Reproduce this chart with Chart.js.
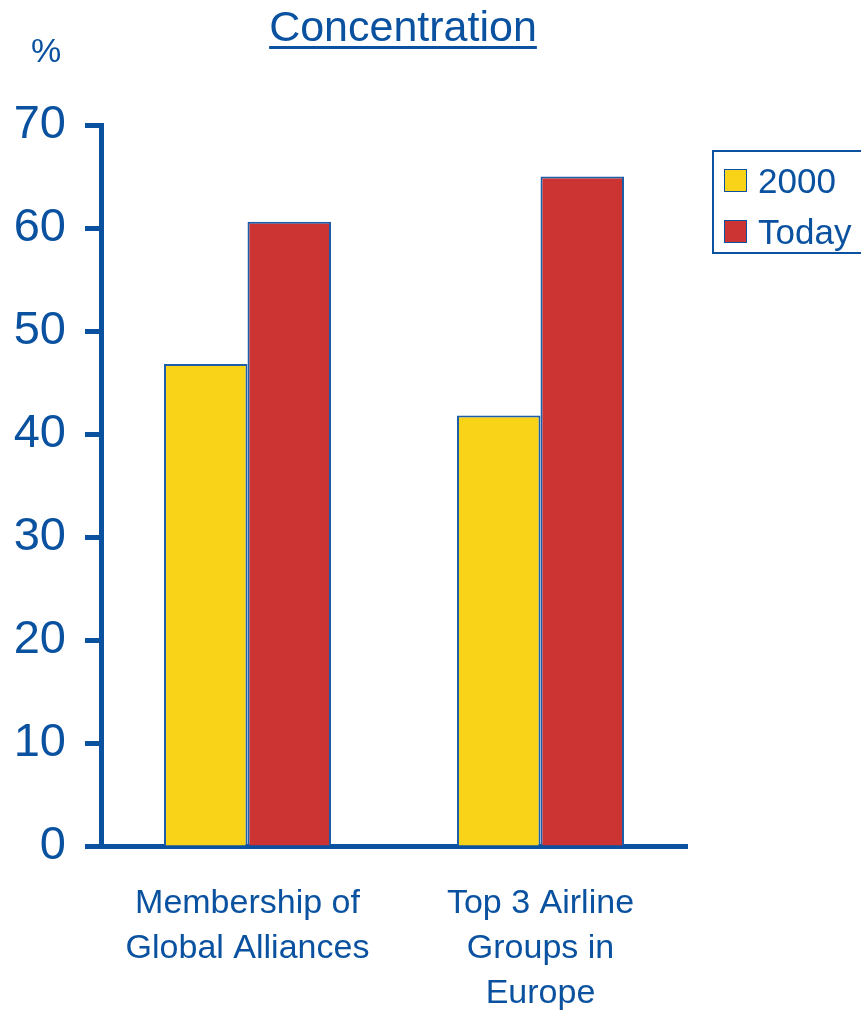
<!DOCTYPE html>
<html>
<head>
<meta charset="utf-8">
<script src="https://cdn.jsdelivr.net/npm/chart.js@4.4.0/dist/chart.umd.min.js"></script>
<style>
  html, body { margin:0; padding:0; background:#fff; }
  #wrap { position:relative; width:861px; height:1011px; overflow:hidden; font-family:"Liberation Sans", Arial, sans-serif; color:#0A52A0; }
  #c { position:absolute; left:0; top:0; }
  #title { position:absolute; left:0; width:806px; top:3px; text-align:center; font-size:43px; line-height:46px; text-decoration:underline; text-decoration-thickness:3px; text-underline-offset:5px; }
  #pct { position:absolute; left:31px; top:31px; font-size:34px; line-height:38px; }
  #legend { position:absolute; left:712px; top:150px; width:160px; height:104px; border:2px solid #0A52A0; box-sizing:border-box; }
  .li { position:absolute; left:10px; height:40px; font-size:35px; line-height:40px; white-space:nowrap; }
  .sw { display:inline-block; width:21px; height:21px; border:1.5px solid #0A52A0; vertical-align:middle; margin-right:11px; position:relative; top:-3px; }
</style>
</head>
<body>
<div id="wrap">
  <canvas id="c" width="861" height="1011"></canvas>
  <div id="title">Concentration</div>
  <div id="pct">%</div>
  <div id="legend"></div>
</div>
<script>
const categories = [["Membership of", "Global Alliances"], ["Top 3 Airline", "Groups in", "Europe"]];
const seriesNames = ["2000", "Today"];
const values2000 = [46.8, 41.8];
const valuesToday = [60.6, 65.0];
const yTicks = [0, 10, 20, 30, 40, 50, 60, 70];

const BLUE = "#0A52A0";
const YELLOW = "#F9D317";
const RED = "#CC3333";
const FONT = "'Liberation Sans', Arial, sans-serif";

const legend = document.getElementById('legend');
[[seriesNames[0], YELLOW], [seriesNames[1], RED]].forEach((s, i) => {
  const d = document.createElement('div');
  d.className = 'li';
  d.style.top = (9 + i * 51) + 'px';
  d.innerHTML = '<span class="sw" style="background:' + s[1] + '"></span>' + s[0];
  legend.appendChild(d);
});

new Chart(document.getElementById('c'), {
  type: 'bar',
  data: {
    labels: categories,
    datasets: [
      { label: seriesNames[0], data: values2000, backgroundColor: YELLOW, borderColor: "#1D5EA8", borderWidth: 2 },
      { label: seriesNames[1], data: valuesToday, backgroundColor: RED, borderColor: "#1D5EA8", borderWidth: 2 }
    ]
  },
  options: {
    responsive: false,
    animation: false,
    events: [],
    layout: { padding: { left: 0, right: 174, top: 125, bottom: 0 } },
    plugins: { legend: { display: false }, title: { display: false }, tooltip: { enabled: false } },
    datasets: { bar: { categoryPercentage: 0.57, barPercentage: 1.0 } },
    scales: {
      x: {
        grid: { display: false, drawTicks: false },
        border: { display: true, color: BLUE, width: 5 },
        ticks: { color: BLUE, font: { family: FONT, size: 34, lineHeight: 1.33 }, padding: 35, maxRotation: 0, autoSkip: false },
        afterFit: (s) => { s.height = 165; }
      },
      y: {
        min: 0, max: 70,
        afterBuildTicks: (s) => { s.ticks = yTicks.map(v => ({ value: v })); },
        grid: { drawOnChartArea: false, drawTicks: true, tickLength: 16, tickColor: BLUE, tickWidth: 5, color: BLUE },
        border: { display: true, color: BLUE, width: 5 },
        ticks: { color: BLUE, font: { family: FONT, size: 47 }, padding: 19 },
        afterFit: (s) => { s.width = 101; }
      }
    }
  }
});
</script>
</body>
</html>
